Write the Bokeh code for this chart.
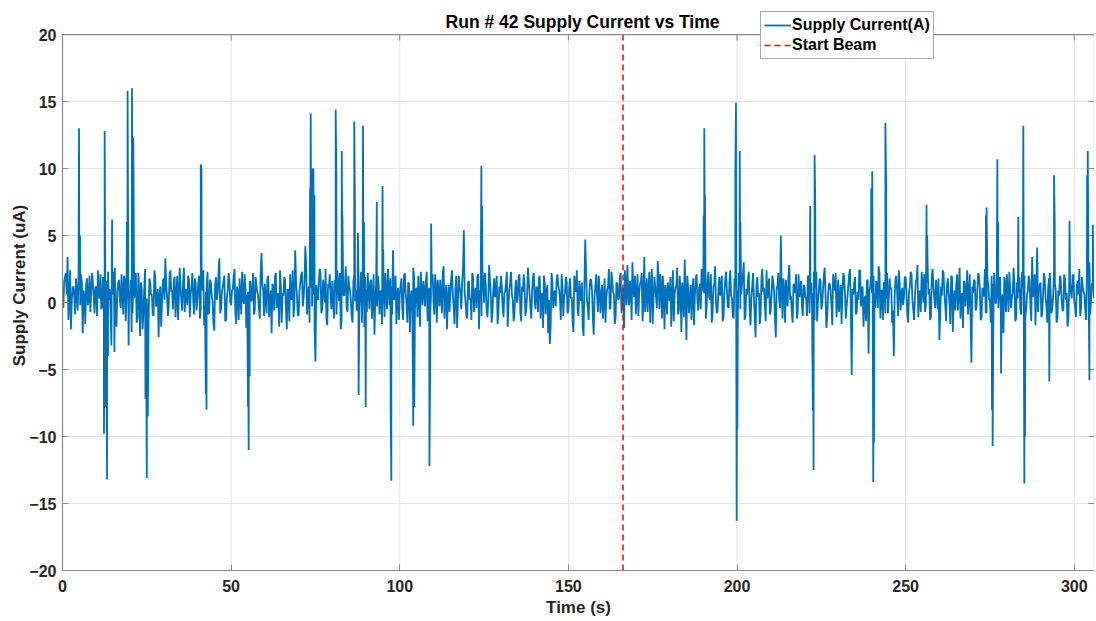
import math
from bokeh.plotting import figure
from bokeh.models import Range1d, FixedTicker, Legend, LegendItem, Span, Label
from bokeh.embed import file_html
from bokeh.resources import INLINE

# ---------------- data ----------------
title_text = "Run # 42 Supply Current vs Time"
x_label = "Time (s)"
y_label = "Supply Current (uA)"
series_label = "Supply Current(A)"
beam_label = "Start Beam"

x_limits = [0, 306]
y_limits = [-20, 20]
x_ticks = [0, 50, 100, 150, 200, 250, 300]
y_ticks = [-20, -15, -10, -5, 0, 5, 10, 15, 20]

start_beam_t = 166.2
sample_interval = 0.5  # seconds between baseline samples
mid_offset = 0.25      # in-between readings sit half a sample later

# baseline readings at 0, 0.5, 1.0 ... s (one row per 10 s)
baseline = [
    0.8, 1.6, 2.2, 3.4, 0.2, -2.0, 1.1, 0.4, 1.8, -0.6, 0.9, 2.1, -2.3, 0.5, 1.3, -0.2, 2.0, 0.7, 1.5, -0.8,
    1.2, 2.4, 0.3, -0.5, 1.9, 0.8, -1.2, 2.3, 1.0, -3.2, 0.6, 2.6, -1.8, 1.4, 0.2, 2.1, -0.9, 1.7, 0.5, 2.0,
    0.4, -2.2, 1.6, 0.9, -1.5, 2.2, -2.5, 1.0, -0.8, 2.5, 0.3, -1.9, 1.5, 0.6, -1.0, 1.9, 0.2, -2.6, 1.2, 0.0,
    1.8, 3.3, 0.5, -0.3, 2.4, 0.9, 1.6, -1.1, 2.0, 0.4, 1.2, -0.6, 2.6, 1.0, -0.2, 1.7, 0.6, 2.2, -0.9, 1.4,
    0.3, 2.0, -0.4, 1.1, -1.7, 0.8, 2.3, -0.7, 1.5, 0.1, -2.1, 1.9, 0.7, 3.3, -0.5, 1.2, 2.0, -1.3, 0.9, 1.6,
    -0.2, 1.0, 2.5, -1.6, 0.6, 1.8, -0.9, 0.3, 2.1, -1.9, 0.8, 1.6, 0.1, 2.2, -0.6, 1.3, 0.5, -1.2, 3.7, 0.9,
    1.4, -0.8, 2.0, 0.3, -2.3, 1.1, 1.9, -0.4, 0.7, 2.4, -1.5, 0.5, 1.7, -2.0, 0.9, 2.1, 0.2, -1.1, 3.9, 0.6,
    -1.0, 1.5, 2.3, 0.4, 4.2, -0.9, 1.2, 2.6, -0.3, 1.8, -4.4, 0.7, 1.4, 2.2, -0.5, 0.9, 2.5, -1.7, 1.1, 0.3,
    1.6, -1.2, 0.8, 2.4, 0.1, -2.0, 1.9, 0.5, 2.7, -0.7, 1.3, 0.2, -1.5, 2.1, 0.9, 1.6, -0.4, 2.3, 0.6, -1.8,
    1.0, 2.2, -0.5, 1.7, 0.3, -2.4, 1.4, 2.0, -0.9, 0.7, 1.9, -1.1, 0.5, 2.5, -0.2, 1.2, 3.9, 0.4, -1.6, 1.1,
    0.6, 1.8, -1.3, 2.2, 0.0, 1.5, -2.2, 0.9, 2.6, -0.6, 1.1, 2.0, -1.8, 0.4, 1.6, -0.3, 2.3, 0.8, -1.0, 1.4,
    0.2, 2.1, -1.5, 0.9, 1.7, -0.8, 2.7, 0.5, -2.0, 1.3, 0.6, 2.4, -0.4, 1.0, -1.9, 2.0, 0.7, 1.5, 5.4, 0.1,
    -1.2, 1.6, 0.3, 2.2, -0.7, 1.1, 1.9, -2.0, 0.8, 2.5, 0.0, 1.4, -1.1, 2.8, 0.5, -0.6, 1.8, 0.9, -1.6, 1.2,
    2.0, -0.3, 0.7, 1.5, -1.8, 1.0, 2.3, 0.2, -0.9, 1.7, 0.4, 2.1, -1.4, 0.8, 1.3, -0.5, 2.6, 0.6, -1.2, 1.9,
    0.1, 1.2, -0.7, 2.0, 0.5, -1.9, 1.4, 0.8, -2.3, -3.1, 2.2, -0.4, 0.9, 1.6, 1.3, 0.3, 2.1, -1.0, 0.7, 1.5,
    -0.6, 1.8, 0.4, -2.2, 1.1, 2.4, -1.0, 0.6, 1.5, -2.5, 4.7, 0.2, -1.3, 1.7, 0.9, -2.4, 1.2, 0.5, 2.0, -0.8,
    1.3, 0.2, -1.5, 1.0, 2.5, -0.4, 1.7, 0.6, -1.1, 1.4, 0.3, 2.2, 0.9, -1.9, 1.5, 2.8, -0.2, 1.1, 3.0, 0.4,
    -0.9, 2.1, 0.7, 1.6, -1.4, 3.4, 0.5, -0.7, 2.3, 1.0, -1.6, 1.9, 0.4, 3.1, -0.5, 1.2, 2.0, -2.0, 0.8, 1.5,
    0.1, -1.8, 2.4, 0.6, 1.3, -0.9, 2.0, -2.2, 0.7, 3.2, -2.8, 1.1, 0.3, -1.3, 1.8, 0.5, 2.1, -0.6, 1.4, 2.5,
    0.8, 1.6, -0.3, 2.3, 0.2, -1.5, 1.2, 2.7, -0.8, 1.0, 0.5, 2.0, -1.1, 1.7, 0.9, -0.4, 2.4, 0.3, -1.2, 1.5,
    0.9, 2.2, -0.5, 1.4, 3.0, -1.0, 0.6, 2.3, -1.7, 1.2, 0.4, -2.6, 1.9, 0.7, -0.9, 2.5, 1.1, -1.4, 0.3, 1.8,
    -0.6, 2.0, 0.8, -2.6, 1.3, 0.2, 5.0, -1.2, 0.9, 1.7, -0.3, 2.8, 0.5, -1.5, 1.1, 2.1, -0.7, 0.4, 1.6, -1.0,
    1.2, 0.3, 2.0, -0.8, 1.5, 0.7, -1.3, 2.3, 0.1, 1.8, -0.5, 1.0, 2.6, -1.9, 0.6, 1.4, -0.2, 2.1, 0.9, -1.1,
    1.7, 0.4, -1.6, 2.2, 0.8, -0.3, 1.3, 2.5, -5.4, 0.6, 1.9, -0.7, 0.2, 2.4, 1.0, -1.8, 0.5, 1.6, -3.8, 1.2,
    0.7, 2.0, -0.4, 1.3, 2.7, -1.2, 0.9, 1.5, -0.8, 2.2, 0.3, 1.0, -1.5, -4.0, 1.8, 0.6, 2.4, -0.6, 1.1, 0.4,
    1.9, -0.9, 0.8, 2.3, 0.2, -1.3, 1.6, 2.8, 0.5, -0.7, 1.4, 2.1, -0.2, 3.0, 1.0, -1.1, 2.5, 0.3, 1.7, -0.5,
    -2.8, 1.2, 2.4, 0.6, -1.4, 1.8, 0.0, 2.0, -2.2, 0.9, 1.3, -0.6, 2.6, 0.4, -1.9, 1.5, 0.8, -0.9, 2.1, -4.5,
    0.7, 1.6, -0.3, 2.2, 1.0, -1.2, 0.5, 2.5, -0.8, 1.3, 0.2, 2.0, -1.6, 1.1, 0.6, -0.4, 1.9, 0.3, -2.3, 1.4,
    2.1, -0.7, 1.0, 0.4, 2.6, -1.4, 1.5, 0.8, -0.5, 2.3, 1.2, -1.0, 0.6, 2.0, -0.2, 3.4, 1.1, -1.7, 4.1, 0.9,
    1.5, -0.8, 2.2, 0.3, -1.5, 1.8, 0.7, -0.4, 2.4, 1.0, -1.2, 0.5, 1.7, -0.6, 2.1, 0.2, -1.8, 1.3, 0.8, 2.0,
    0.1, -1.1, 1.6, 2.5, -0.5, 1.2, 0.6, -1.3, 1.9, 3.0, 0.4, 1.5, 0.3,
]

# in-between readings at 0.25, 0.75, 1.25 ... s (one row per 10 s)
baseline_mid = [
    -0.4, 1.9, 0.6, -1.3, 2.4, 0.1, 1.2, -0.9, 0.7, 2.0, -0.2, 1.4, 0.9, -1.6, 1.8, 0.3, -0.7, 2.2, 0.5, 1.1,
    -1.0, 0.6, 2.1, -0.3, 1.0, -1.9, 1.6, 0.2, -0.6, 1.3, 2.3, -1.1, 0.8, 1.7, -0.4, 0.9, 2.0, -1.4, 1.2, 0.4,
    1.7, -0.8, 0.3, 2.2, -1.2, 0.7, 1.5, -2.0, 1.1, 0.0, -1.5, 1.8, 0.6, -0.9, 2.4, -0.3, 1.0, 0.5, -1.8, 1.6,
    0.2, 1.3, -1.0, 2.1, 0.8, -0.5, 1.9, 0.4, -1.3, 2.6, 0.1, 1.5, -0.7, 0.6, 2.0, -1.1, 1.2, 0.3, 1.8, -0.6,
    1.4, -1.2, 0.9, 2.4, -0.2, 1.1, -0.9, 1.7, 0.5, -1.6, 1.3, 0.2, 2.1, -0.8, 0.7, 1.6, -1.4, 0.4, 2.2, 0.0,
    0.9, 2.0, -0.7, 1.2, -1.3, 0.5, 2.3, -0.1, 1.0, 0.6, -1.7, 1.5, 0.3, -0.9, 1.9, 0.8, -0.4, 2.1, 1.3, -1.0,
    0.5, 1.8, -1.1, 0.9, 1.4, -0.6, 2.2, 0.1, -1.8, 1.2, 0.7, 1.9, -0.5, 1.0, -1.4, 0.3, 2.4, -0.2, 1.6, -0.9,
    0.8, 2.0, -0.3, 1.5, 2.8, 0.4, -1.5, 1.1, 0.6, -2.1, 1.3, 0.2, 2.5, -0.8, 1.7, 0.0, -1.2, 1.4, 2.1, -0.5,
    0.3, 1.7, -0.9, 1.2, 2.2, -1.3, 0.6, 1.4, -0.4, 2.0, 0.9, -1.1, 1.6, 0.1, -0.6, 2.3, 0.7, -1.5, 1.0, 1.9,
    -0.7, 0.8, 1.5, -1.2, 2.1, 0.4, -0.3, 1.3, 0.9, -1.6, 0.6, 2.2, -0.5, 1.1, 1.8, -0.9, 0.2, 2.0, 0.5, -1.3,
    1.2, -0.4, 2.0, 0.7, -1.5, 1.4, 0.3, -0.8, 1.9, 1.0, -1.1, 0.5, 2.3, -0.2, 0.8, 1.6, -1.4, 1.1, 0.4, 2.1,
    -0.9, 0.9, 1.7, -0.3, 0.6, 2.2, -1.2, 1.3, 0.2, -0.7, 1.8, 0.5, -1.6, 2.0, 0.1, 1.2, -0.5, 2.4, 0.7, -1.0,
    1.5, 0.2, -1.3, 1.9, 0.6, -0.4, 2.1, 0.9, -1.0, 1.4, 2.2, -0.6, 0.3, 1.7, -1.5, 1.0, 0.4, 2.0, -0.8, 0.7,
    1.3, -1.1, 0.8, 2.3, -0.2, 1.5, 0.6, -1.4, 1.1, 0.0, 1.9, -0.7, 1.2, 2.1, -1.0, 0.5, 1.6, -0.4, 0.9, 2.2,
    -0.5, 1.0, 1.8, -1.2, 0.7, 2.0, -0.9, 1.3, 0.2, -1.7, 1.5, 0.6, -0.3, 2.1, 0.9, -1.3, 1.2, 0.4, 1.9, -0.8,
    1.1, 0.3, -1.4, 2.0, 0.8, -0.6, 1.6, 0.1, -1.9, 1.3, 2.2, -0.4, 0.9, 1.7, -1.1, 0.5, 2.1, -0.7, 1.0, 0.6,
    -1.2, 1.8, 0.4, 1.2, -0.5, 2.3, 0.8, -1.6, 1.5, 0.2, 1.9, -0.8, 1.1, 2.4, -0.2, 0.7, 1.6, -1.3, 0.9, 2.0,
    0.5, -1.0, 1.4, 2.2, 0.1, -0.7, 1.8, 0.9, -1.5, 2.5, 0.3, 1.2, -0.4, 1.7, 2.1, -1.2, 0.6, 1.3, -0.9, 0.8,
    1.9, 0.4, -1.4, 1.1, 2.6, -0.6, 0.8, 1.5, -1.1, 0.3, 2.0, -0.8, 1.3, 0.6, -1.7, 1.8, 0.2, 1.0, -0.5, 2.2,
    0.7, -1.2, 1.6, 0.4, 2.1, -0.9, 1.3, 0.0, -0.6, 1.9, 1.1, -1.4, 0.8, 2.3, -0.3, 1.5, 0.5, -1.0, 1.8, 0.9,
    -0.8, 1.4, 0.6, 2.0, -1.3, 1.0, 1.7, -0.5, 0.3, 2.2, -1.0, 1.2, 0.4, -1.6, 1.9, 0.8, -0.2, 2.4, 1.1, -0.9,
    0.6, 1.5, -1.1, 1.0, 2.2, -0.4, 0.9, 1.8, -1.5, 0.5, 2.0, 0.2, -0.8, 1.4, 0.7, -1.2, 2.1, 1.0, -0.3, 1.3,
    0.4, -1.0, 1.9, 0.7, -0.6, 2.3, 1.1, -1.4, 0.8, 1.6, -0.2, 2.0, 0.5, -1.1, 1.4, 0.9, -1.7, 1.2, 2.2, 0.1,
    -0.7, 1.3, 0.6, 1.9, -1.2, 0.4, 2.1, -0.5, 1.0, 1.5, -0.9, 0.8, 2.4, -0.3, 1.2, 0.2, -1.4, 1.7, 0.9, 2.0,
    -1.1, 0.7, 1.6, -0.4, 2.2, 0.9, -1.3, 1.4, 0.3, -0.8, 1.8, 1.1, -0.6, 0.5, 2.0, -1.0, 1.3, 0.6, -0.2, 1.9,
    0.8, -1.5, 1.2, 2.1, -0.5, 0.4, 1.7, -1.1, 0.9, 2.3, 0.0, -0.7, 1.5, 0.6, -1.3, 2.0, 1.1, -0.4, 0.7, 1.8,
    -0.9, 0.5, 2.2, -0.2, 1.3, 0.8, -1.6, 1.9, 0.3, -0.6, 2.1, 1.0, -1.2, 0.7, 1.6, -0.3, 2.4, 0.4, -1.0, 1.2,
    1.7, -0.6, 0.9, 2.0, -1.3, 1.1, 0.5, -0.8, 1.8, 0.2, -1.5, 1.4, 2.2, -0.1, 0.8, 1.3, -1.0, 0.6, 1.9, -0.7,
    1.0, 2.3, -0.4, 0.7, 1.5, -1.2, 0.3, 1.9, -0.9, 1.2, 2.0, -0.5, 0.9, 1.6, -1.4, 0.4, 2.1, 0.8, -0.7, 1.3,
    -1.1, 0.6, 1.8, -0.3, 1.1, 2.2, -0.8, 0.5, 1.4, -1.5, 0.9, 2.0, 0.2, -0.6, 1.7, 0.7, -1.2, 1.5, 0.3, 2.1,
    -0.4, 1.2, 0.6, -1.0, 1.9, 0.8, -0.5, 2.2, 1.0, -0.9, 1.4, 0.5,
]

# spike readings (time in s, current in uA)
spike_t = [
    4.9, 5.2, 12.3, 12.5, 12.8, 13.2, 13.5, 14.7, 15.4, 19.1, 19.3, 19.6, 20.6, 21.0,
    24.6, 25.0, 25.3, 41.0, 41.2, 42.5, 42.7, 55.0, 55.2, 55.5,
    73.4, 73.6, 73.9, 74.1, 74.4, 74.7, 81.0, 81.2, 82.8, 83.0,
    86.5, 86.7, 87.6, 87.8, 89.1, 89.4, 89.9, 93.2, 94.9, 95.1, 97.3, 97.5,
    104.0, 104.3, 108.8, 109.0, 109.3, 124.2, 124.4,
    190.1, 190.3, 190.5, 199.5, 199.7, 199.9, 200.1, 200.8, 201.0,
    221.7, 222.5, 222.7, 223.0, 223.2, 239.8, 240.1, 240.4, 240.6, 244.0, 244.2,
    256.2, 256.4, 273.8, 274.0, 275.6, 275.8, 277.2, 277.4, 278.3,
    283.4, 284.9, 285.2, 285.4, 292.6, 294.0, 294.2, 298.6,
    303.8, 304.0, 304.5, 305.5,
]
spike_v = [
    13.0, 5.0, -9.8, 12.8, -7.8, -13.2, -4.0, 6.2, -3.7, 6.0, 15.8, -3.2, 16.0, 12.3,
    -7.2, -13.1, -8.5, 10.3, 10.0, -6.8, -8.0, -7.8, -11.0, -5.5,
    8.5, 14.1, 10.0, 9.8, 10.0, 8.0, 14.4, 9.5, 11.3, 6.5,
    13.5, 7.5, 5.2, -6.9, 13.2, 6.0, -7.8, 7.5, 8.7, 4.0, -8.0, -13.3,
    -9.2, -7.8, -12.2, -5.0, 5.9, 10.2, 7.2,
    6.5, 13.0, 8.0, 9.5, 14.9, -16.3, -9.5, 11.3, 6.0,
    7.2, -8.0, -12.5, 11.0, 7.5, 8.5, 9.8, -13.4, -10.5, 13.4, 9.0,
    7.3, 5.0, 6.5, 7.1, -8.0, -10.7, 10.7, 6.0, -5.3,
    6.4, 13.2, -13.5, -10.0, -5.9, 9.5, 6.0, 6.1,
    9.5, 11.3, -5.8, 5.8,
]

# ---------------- combine readings in time order ----------------
base_t = [i * sample_interval for i in range(len(baseline))]
mid_t = [mid_offset + i * sample_interval for i in range(len(baseline_mid))]
points = sorted(list(zip(base_t, baseline)) + list(zip(mid_t, baseline_mid))
                + list(zip(spike_t, spike_v)))
ts = [pt[0] for pt in points]
vs = [pt[1] for pt in points]

FONT = "Liberation Sans"
DARK = "#262626"
AXIS_GRAY = "#8a8a8a"
GRID = "#e4e4e4"

# the frame reaches above the axes box so that the title and legend can sit there
view_top = 22.54

p = figure(
    width=1094, height=620,
    x_range=Range1d(x_limits[0], x_limits[1]), y_range=Range1d(y_limits[0], view_top),
    output_backend="svg", toolbar_location=None,
    min_border_left=62, min_border_right=0, min_border_top=0, min_border_bottom=50,
    background_fill_color="white", border_fill_color="white",
)
p.outline_line_color = None

# grid: horizontal lines from the library, vertical lines limited to the box
p.xgrid.visible = False
p.ygrid.ticker = FixedTicker(ticks=y_ticks)
p.ygrid.grid_line_color = GRID
p.ygrid.grid_line_width = 1
p.segment(x0=x_ticks, y0=[y_limits[0]] * len(x_ticks), x1=x_ticks, y1=[y_limits[1]] * len(x_ticks),
          line_color=GRID, line_width=1)

for ax in (p.xaxis[0], p.yaxis[0]):
    ax.major_label_text_font = FONT
    ax.major_label_text_font_size = "16px"
    ax.major_label_text_font_style = "bold"
    ax.major_label_text_color = DARK
    ax.axis_label_text_font = FONT
    ax.axis_label_text_font_size = "17px"
    ax.axis_label_text_font_style = "bold"
    ax.axis_label_text_color = DARK
    ax.axis_line_color = AXIS_GRAY
    ax.axis_line_width = 1.2
    ax.major_tick_line_color = AXIS_GRAY
    ax.major_tick_in = 6
    ax.major_tick_out = 0
    ax.minor_tick_line_color = None

p.xaxis[0].ticker = FixedTicker(ticks=x_ticks)
p.yaxis[0].ticker = FixedTicker(ticks=y_ticks)
p.yaxis[0].bounds = (y_limits[0], y_limits[1])
p.xaxis[0].axis_label = x_label
p.yaxis[0].axis_label = y_label
p.xaxis[0].major_label_standoff = 9
p.xaxis[0].axis_label_standoff = 3
p.yaxis[0].major_label_standoff = 6
p.yaxis[0].axis_label_standoff = -3

# top and right sides of the box, with inward ticks
p.add_layout(Span(location=y_limits[1], dimension="width", line_color=AXIS_GRAY, line_width=1.2))
p.segment(x0=[x_limits[1]], y0=[y_limits[0]], x1=[x_limits[1]], y1=[y_limits[1]],
          line_color=AXIS_GRAY, line_width=1.2)
p.ray(x=x_ticks, y=[y_limits[1]] * len(x_ticks), length=6, length_units="screen",
      angle=-math.pi / 2, line_color=AXIS_GRAY, line_width=1)
p.ray(x=[x_limits[1]] * len(y_ticks), y=y_ticks, length=6, length_units="screen",
      angle=math.pi, line_color=AXIS_GRAY, line_width=1)

r1 = p.line(ts, vs, line_color="#0072BD", line_width=1.8)
r2 = p.line([start_beam_t, start_beam_t], y_limits, line_color="#FF0000",
            line_dash="6 4", line_width=1.5)

# title
p.add_layout(Label(x=(x_limits[0] + x_limits[1]) / 2 + 1.2, y=20.97, text=title_text,
                   text_font=FONT, text_font_size="17.5px", text_font_style="bold",
                   text_color="#000000", text_align="center", text_baseline="middle"))

legend = Legend(
    items=[LegendItem(label=series_label, renderers=[r1]),
           LegendItem(label=beam_label, renderers=[r2])],
    location=(698, 511),
    label_text_font=FONT, label_text_font_size="16px", label_text_font_style="bold",
    label_text_color="#000000",
    glyph_width=27, glyph_height=20, label_height=20, label_standoff=1,
    spacing=0, padding=3, margin=0,
    border_line_color="#555555", border_line_width=1,
    background_fill_color="white", background_fill_alpha=1.0,
)
p.add_layout(legend)

open("out.html", "w").write(file_html(p, INLINE))
